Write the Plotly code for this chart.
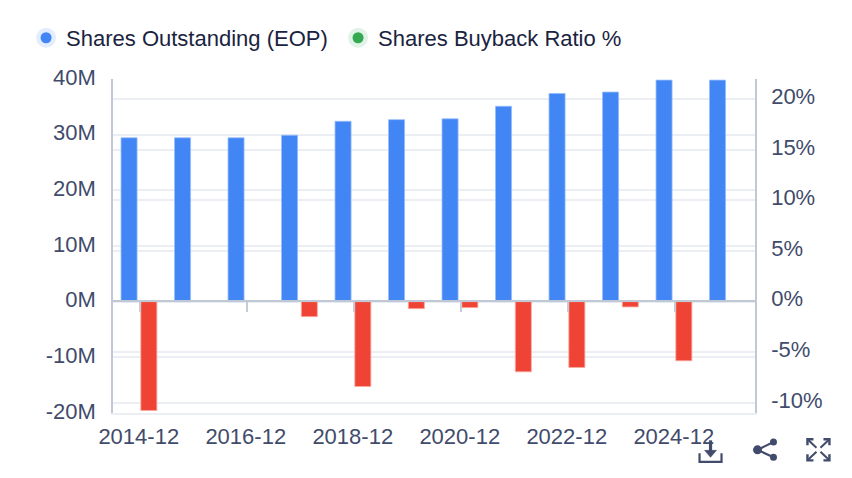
import plotly.graph_objects as go

W, H = 852, 478
L, R, T, B = 113.0, 755.5, 79.0, 412.7

categories = ["2014-12","2015-12","2016-12","2017-12","2018-12","2019-12","2020-12","2021-12","2022-12","2023-12","2024-12","2025-12"]
shares_outstanding = [29.44e6,29.44e6,29.44e6,29.9e6,32.4e6,32.7e6,32.85e6,35.1e6,37.4e6,37.65e6,39.8e6,39.8e6]
buyback_ratio = [-10.75,None,None,-1.48,-8.38,-0.69,-0.59,-6.93,-6.5,-0.52,-5.84,None]
x_ticks = ["2014-12","2016-12","2018-12","2020-12","2022-12","2024-12"]
left_vals = [-20e6,-10e6,0,10e6,20e6,30e6,40e6]
left_text = ["-20M","-10M","0M","10M","20M","30M","40M"]
right_vals = [-10,-5,0,5,10,15,20]
right_text = ["-10%","-5%","0%","5%","10%","15%","20%"]

BLUE, GREEN, RED = "#4285f4", "#34a853", "#ee4335"
TXT, LEG = "#414b6b", "#1a2340"
GRID, AXIS = "#ebeff3", "#bfc8d4"
FONT = "Liberation Sans, Arial, sans-serif"

fig = go.Figure()
fig.add_bar(x=categories, y=shares_outstanding, xaxis="x", yaxis="y", width=0.3, offset=-0.35,
            marker=dict(color=BLUE, line=dict(color="rgba(150,190,250,0.8)", width=1)), showlegend=False, hoverinfo="skip")
fig.add_bar(x=categories, y=buyback_ratio, xaxis="x2", yaxis="y2", width=0.3, offset=0.02,
            marker=dict(color=[RED if (v or 0) < 0 else GREEN for v in buyback_ratio],
                        line=dict(color="rgba(250,170,160,0.8)", width=1)), showlegend=False, hoverinfo="skip")
for name, col, halo in [("Shares Outstanding (EOP)", BLUE, "#e3edfd"),
                        ("Shares Buyback Ratio %", GREEN, "#e1f2e6")]:
    fig.add_scatter(x=[None], y=[None], mode="markers", name=name,
                    marker=dict(color=col, size=15.5, line=dict(color=halo, width=4.5)))

def px(x): return (x - L) / (R - L)
def py(y): return (B - y) / (B - T)

def path(d, width=2.2, fill=None):
    out = []
    for t in d.split():
        if len(t) == 1:
            out.append(t)
        else:
            a, b = t.split(",")
            out.append(f"{px(float(a)):.5f},{py(float(b)):.5f}")
    return dict(type="path", xref="paper", yref="paper", path=" ".join(out),
                line=dict(color=TXT, width=width), fillcolor=fill or "rgba(0,0,0,0)", layer="above")

def dot(cx, cy, r):
    return dict(type="circle", xref="paper", yref="paper", x0=px(cx-r), x1=px(cx+r), y0=py(cy+r), y1=py(cy-r),
                line=dict(width=0), fillcolor=TXT, layer="above")

shapes = [
    path("M 700,453 L 700,461.5 L 722,461.5 L 722,453"),
    path("M 711,440 L 711,452", 3.2),
    path("M 705,450 L 711,457 L 717,450 Z", 0.5, TXT),
    path("M 758,449.5 L 774,441.7 M 758,449.5 L 774,457", 2.2),
    dot(758, 449.5, 4.5), dot(774, 441.7, 3.5), dot(774, 457, 3.5),
]
for sx, sy in [(-1,-1),(1,-1),(-1,1),(1,1)]:
    cx, cy = 819, 449.5
    a, b = cx + sx*11, cy + sy*10.5
    shapes.append(path(f"M {cx+sx*2},{cy+sy*2} L {a},{b}", 2))
    shapes.append(path(f"M {a-sx*6},{b} L {a},{b} L {a},{b-sy*6}", 2.4))

fig.update_layout(
    width=W, height=H, autosize=False,
    margin=dict(l=L, r=W-R, t=T, b=H-B, pad=0),
    paper_bgcolor="white", plot_bgcolor="white",
    font=dict(family=FONT, color=TXT, size=22),
    barmode="overlay",
    showlegend=True,
    legend=dict(orientation="h", x=px(26), y=py(17), xanchor="left", yanchor="top",
                font=dict(size=22, color=LEG, family=FONT), itemwidth=30, traceorder="normal",
                entrywidth=267, entrywidthmode="pixels",
                bgcolor="rgba(0,0,0,0)", tracegroupgap=0),
    xaxis=dict(type="category", categoryorder="array", categoryarray=categories, range=[-0.5, 11.5],
               tickmode="array", tickvals=x_ticks, ticktext=x_ticks, ticks="", showgrid=False,
               showline=True, linecolor=GRID, linewidth=2, zeroline=False, ticklabelstandoff=3,
               ticklabelshift=-1, domain=[0, 1]),
    xaxis2=dict(type="category", categoryorder="array", categoryarray=categories, range=[-0.5, 11.5],
                overlaying="x", anchor="free", position=(B-300.7)/(B-T), side="bottom",
                tickmode="array", tickvals=x_ticks, showticklabels=False, ticks="outside", ticklen=10,
                tickwidth=1.5, tickcolor="#c5ccd6", showgrid=False, showline=True, linecolor=AXIS, linewidth=1.5,
                zeroline=False),
    yaxis=dict(range=[-20e6, 40e6], tickmode="array", tickvals=left_vals, ticktext=left_text,
               showgrid=True, gridcolor=GRID, gridwidth=1.5, zeroline=False, showline=True,
               linecolor=AXIS, linewidth=1.5, ticks="", ticklabelstandoff=11, ticklabelshift=-2),
    yaxis2=dict(range=[-11, 22], overlaying="y", side="right", tickmode="array", tickvals=right_vals,
                ticktext=right_text, showgrid=True, gridcolor=GRID, gridwidth=1.5, zeroline=False,
                showline=True, linecolor=AXIS, linewidth=1.5, ticks="", ticklabelstandoff=10, ticklabelshift=-3, anchor="x"),
    shapes=shapes,
)
fig.write_html("out.html", config=dict(displayModeBar=False),
               post_script="document.body.style.margin='0';")
